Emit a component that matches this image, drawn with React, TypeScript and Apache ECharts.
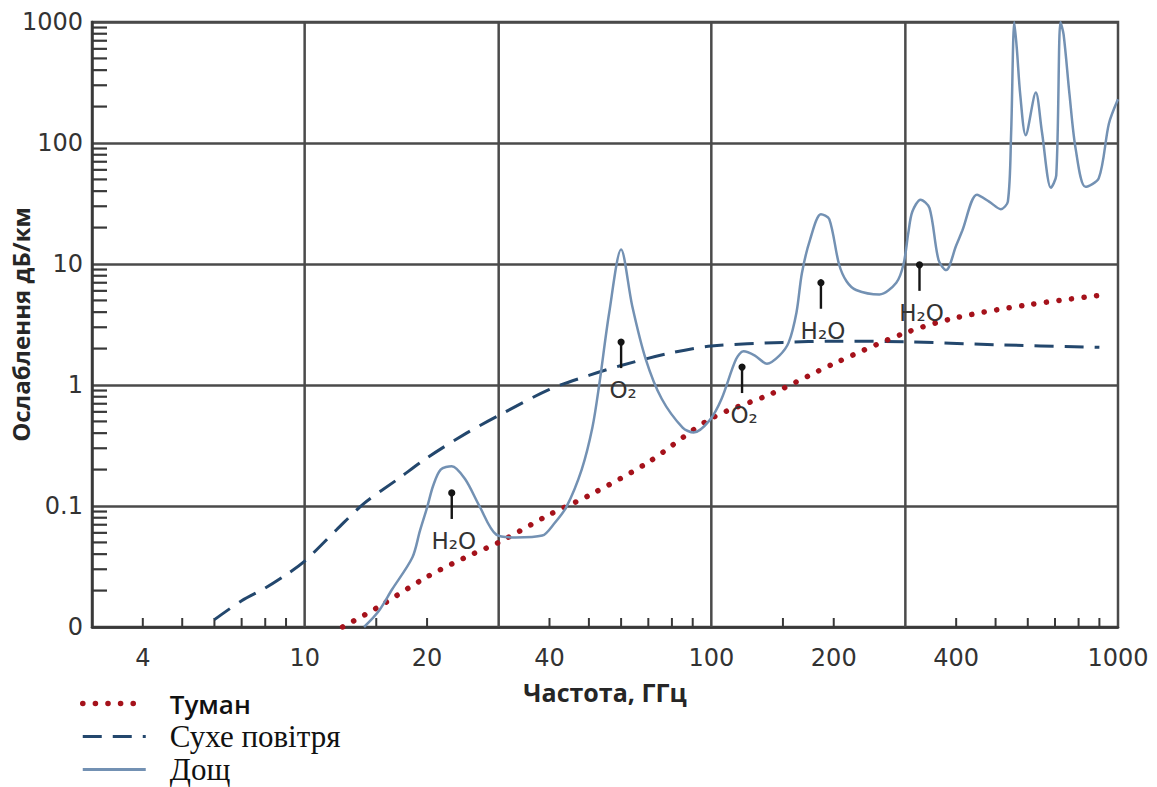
import { useEffect, useRef } from 'react';
import * as echarts from 'echarts';

// Axis ranges (log scales)
const X_MIN = 3;
const X_MAX = 1000;
const Y_MIN = 0.01;
const Y_MAX = 1000;

// Fog attenuation, dB/km
const FOG_FREQ = [12.4, 15, 20, 25, 30, 40, 50, 70, 100, 141, 200, 300, 400, 600, 900];
const FOG_ATTEN = [0.01, 0.0143, 0.026, 0.038, 0.05, 0.085, 0.122, 0.23, 0.53, 0.85, 1.5, 2.7, 3.6, 4.6, 5.5];

// Dry air attenuation, dB/km
const DRY_FREQ = [6, 7, 8, 9, 10, 12, 14, 17, 20, 25, 30, 40, 50, 60, 80, 100, 150, 200, 300, 500, 900];
const DRY_ATTEN = [0.0115, 0.0165, 0.021, 0.027, 0.035, 0.064, 0.105, 0.168, 0.25, 0.4, 0.56, 0.92, 1.2, 1.45, 1.85, 2.1, 2.25, 2.3, 2.28, 2.15, 2.05];

// Rain attenuation, dB/km
const RAIN_FREQ = [
  14, 15.2, 16.4, 18.4, 19.2, 20, 20.7, 21.6, 23, 24.8, 26.9, 29.6, 33, 38.4, 41, 44, 48, 51, 53, 56.1,
  60, 63.9, 69, 75.5, 85, 90.5, 99, 106, 115, 120, 128, 137, 147, 155, 162, 167, 175, 186, 195, 206,
  215, 227, 259, 285, 297, 305, 312, 327, 344, 362, 378, 400, 414, 450, 482, 515, 536, 546, 556, 564,
  575, 593, 628, 650, 684, 705, 722, 735, 760, 787, 832, 897, 950, 1000,
];
const RAIN_ATTEN = [
  0.01, 0.0135, 0.0204, 0.0375, 0.062, 0.097, 0.147, 0.2, 0.213, 0.167, 0.1, 0.058, 0.055, 0.057, 0.071, 0.098, 0.2, 0.445, 1.0, 3.97,
  13.2, 4.5, 1.63, 0.77, 0.445, 0.405, 0.51, 0.77, 1.63, 1.9, 1.75, 1.5, 1.75, 2.25, 4.0, 8.4, 16, 25.8, 23.5, 10,
  7.2, 6.1, 5.6, 7.0, 10, 18, 27, 34, 29, 10.8, 8.9, 14.2, 18.8, 37.4, 32.8, 28.4, 32.8, 120, 1000, 600,
  250, 116, 261, 124, 42.6, 54, 1000, 786, 251, 89, 43.4, 51.2, 145, 230,
];

// Absorption lines marked with arrows
const LINE_FREQ = [23, 60, 119, 186, 325];
const LINE_LEVEL = [0.102, 1.8, 1.12, 5.57, 7.83];
const LINE_GAS = ['H₂O', 'O₂', 'O₂', 'H₂O', 'H₂O'];

// Axis decoration
const X_GRID = [10, 30, 100, 300];
const X_MINOR_TICKS = [4, 5, 6, 7, 8, 9, 15, 20, 40, 50, 60, 70, 80, 90, 150, 200, 400, 500, 600, 700, 800, 900];
const X_TICK_LABELS = [4, 10, 20, 40, 100, 200, 400, 1000];
const Y_MINOR_TICKS = [
  0.02, 0.03, 0.04, 0.05, 0.06, 0.07, 0.08, 0.09,
  0.2, 0.3, 0.4, 0.5, 0.6, 0.7, 0.8, 0.9,
  2, 3, 4, 5, 6, 7, 8, 9,
  20, 30, 40, 50, 60, 70, 80, 90,
  200, 300, 400, 500, 600, 700, 800, 900,
];

const NAME_FOG = 'Туман';
const NAME_DRY = 'Сухе повітря';
const NAME_RAIN = 'Дощ';

const zip = (xs: number[], ys: number[]) => xs.map((x, i) => [x, ys[i]]);

const GRID_COLOR = '#4a4a4a';
const AXIS_COLOR = '#383838';
const TICK_FONT = '24px "DejaVu Sans"';
const GAS_FONT = '23px "DejaVu Sans"';
const HIDDEN_SYMBOL = { opacity: 0 };

function buildOption(): any {
  return {
    animation: false,
    backgroundColor: '#ffffff',
    grid: {
      left: 92,
      top: 22,
      width: 1026,
      height: 605,
      outerBoundsMode: 'none',
      containLabel: false,
      show: true,
      borderColor: GRID_COLOR,
      borderWidth: 2.5,
      backgroundColor: 'transparent',
    },
    xAxis: {
      type: 'log',
      logBase: 10,
      min: X_MIN,
      max: X_MAX,
      name: 'Частота, ГГц',
      nameLocation: 'middle',
      nameGap: 52,
      nameMoveOverlap: false,
      nameTextStyle: { fontFamily: 'Open Sans', fontWeight: 'bold', fontSize: 25, color: '#262626' },
      axisLine: { show: true, lineStyle: { color: AXIS_COLOR, width: 2.5 } },
      axisTick: { show: false },
      axisLabel: { show: false },
      splitLine: { show: false },
    },
    yAxis: {
      type: 'log',
      logBase: 10,
      min: Y_MIN,
      max: Y_MAX,
      name: 'Ослаблення дБ/км',
      nameLocation: 'middle',
      nameRotate: 90,
      nameGap: 60,
      nameMoveOverlap: false,
      nameTextStyle: { fontFamily: 'Open Sans', fontWeight: 'bold', fontSize: 24, color: '#262626' },
      axisLine: { show: true, lineStyle: { color: AXIS_COLOR, width: 2.5 } },
      axisTick: { show: false },
      axisLabel: {
        fontFamily: 'DejaVu Sans',
        fontSize: 24,
        color: '#333',
        margin: 9,
        formatter: (v: number) => (v < 0.05 ? '0' : v < 0.5 ? '0.1' : String(Math.round(v))),
      },
      splitLine: { show: true, lineStyle: { color: GRID_COLOR, width: 2.5 } },
    },
    legend: {
      orient: 'vertical',
      left: 80,
      top: 687,
      padding: 0,
      itemGap: 0,
      itemWidth: 63,
      itemHeight: 14,
      textStyle: { fontSize: 30, lineHeight: 33, color: '#111', padding: [0, 0, 0, 19] },
      data: [
        {
          name: NAME_FOG,
          textStyle: { fontFamily: 'Open Sans', fontWeight: 600, fontSize: 26 },
          lineStyle: { width: 5.5 },
          itemStyle: HIDDEN_SYMBOL,
        },
        {
          name: NAME_DRY,
          textStyle: { fontFamily: 'Liberation Serif', fontSize: 31 },
          lineStyle: { width: 3 },
          itemStyle: HIDDEN_SYMBOL,
        },
        {
          name: NAME_RAIN,
          textStyle: { fontFamily: 'Liberation Serif', fontSize: 31 },
          lineStyle: { width: 3 },
          itemStyle: HIDDEN_SYMBOL,
        },
      ],
    },
    series: [
      // vertical grid lines
      {
        type: 'custom',
        silent: true,
        clip: false,
        z: 1,
        data: X_GRID.map((f) => [f, Y_MIN]),
        renderItem: (_p: any, api: any) => {
          const b = api.coord([api.value(0), Y_MIN]);
          const t = api.coord([api.value(0), Y_MAX]);
          return {
            type: 'line',
            shape: { x1: b[0], y1: b[1], x2: t[0], y2: t[1] },
            style: { stroke: GRID_COLOR, lineWidth: 2.5 },
          };
        },
      },
      // minor ticks along the frequency axis
      {
        type: 'custom',
        silent: true,
        clip: false,
        z: 1,
        data: X_MINOR_TICKS.map((f) => [f, Y_MIN]),
        renderItem: (_p: any, api: any) => {
          const b = api.coord([api.value(0), Y_MIN]);
          return {
            type: 'line',
            shape: { x1: b[0], y1: b[1], x2: b[0], y2: b[1] - 9 },
            style: { stroke: AXIS_COLOR, lineWidth: 2 },
          };
        },
      },
      // minor ticks along the attenuation axis
      {
        type: 'custom',
        silent: true,
        clip: false,
        z: 1,
        data: Y_MINOR_TICKS.map((v) => [X_MIN, v]),
        renderItem: (_p: any, api: any) => {
          const l = api.coord([X_MIN, api.value(1)]);
          return {
            type: 'line',
            shape: { x1: l[0], y1: l[1], x2: l[0] + 15, y2: l[1] },
            style: { stroke: AXIS_COLOR, lineWidth: 2.2 },
          };
        },
      },
      // frequency tick labels
      {
        type: 'custom',
        silent: true,
        clip: false,
        z: 1,
        data: X_TICK_LABELS.map((f) => [f, Y_MIN]),
        renderItem: (params: any, api: any) => {
          const b = api.coord([api.value(0), Y_MIN]);
          return {
            type: 'text',
            x: b[0],
            y: b[1] + 31,
            style: {
              text: String(X_TICK_LABELS[params.dataIndex]),
              font: TICK_FONT,
              fill: '#333',
              align: 'center',
              verticalAlign: 'middle',
            },
          };
        },
      },
      {
        name: NAME_DRY,
        type: 'line',
        data: zip(DRY_FREQ, DRY_ATTEN),
        symbol: 'none',
        smooth: 0.3,
        z: 3,
        lineStyle: { color: '#23476d', width: 3, type: [19, 11] },
      },
      {
        name: NAME_FOG,
        type: 'line',
        data: zip(FOG_FREQ, FOG_ATTEN),
        symbol: 'none',
        smooth: 0.3,
        z: 4,
        lineStyle: { color: '#a5121b', width: 5.5, type: [0.1, 12.5], cap: 'round' },
      },
      {
        name: NAME_RAIN,
        type: 'line',
        data: zip(RAIN_FREQ, RAIN_ATTEN),
        symbol: 'none',
        smooth: 0.3,
        z: 5,
        lineStyle: { color: '#7391b3', width: 2.5 },
      },
      // absorption line markers: arrow with the gas formula under it
      {
        type: 'custom',
        silent: true,
        clip: false,
        z: 6,
        data: zip(LINE_FREQ, LINE_LEVEL),
        renderItem: (params: any, api: any) => {
          const c = api.coord([api.value(0), api.value(1)]);
          return {
            type: 'group',
            children: [
              {
                type: 'line',
                shape: { x1: c[0], y1: c[1] - 12, x2: c[0], y2: c[1] + 14 },
                style: { stroke: '#151515', lineWidth: 2.4 },
              },
              {
                type: 'circle',
                shape: { cx: c[0], cy: c[1] - 12, r: 3.6 },
                style: { fill: '#151515' },
              },
              {
                type: 'text',
                x: c[0] + 2,
                y: c[1] + 36,
                style: {
                  text: LINE_GAS[params.dataIndex],
                  font: GAS_FONT,
                  fill: '#333',
                  align: 'center',
                  verticalAlign: 'middle',
                },
              },
            ],
          };
        },
      },
    ],
  };
}

export default function App() {
  const ref = useRef<HTMLDivElement>(null);
  useEffect(() => {
    if (!ref.current) return;
    const chart = echarts.init(ref.current, null, { renderer: 'svg' });
    chart.setOption(buildOption());
    return () => chart.dispose();
  }, []);
  return (
    <div
      ref={ref}
      style={{ position: 'fixed', left: 0, top: 0, width: 1157, height: 787, background: '#fff' }}
    />
  );
}
